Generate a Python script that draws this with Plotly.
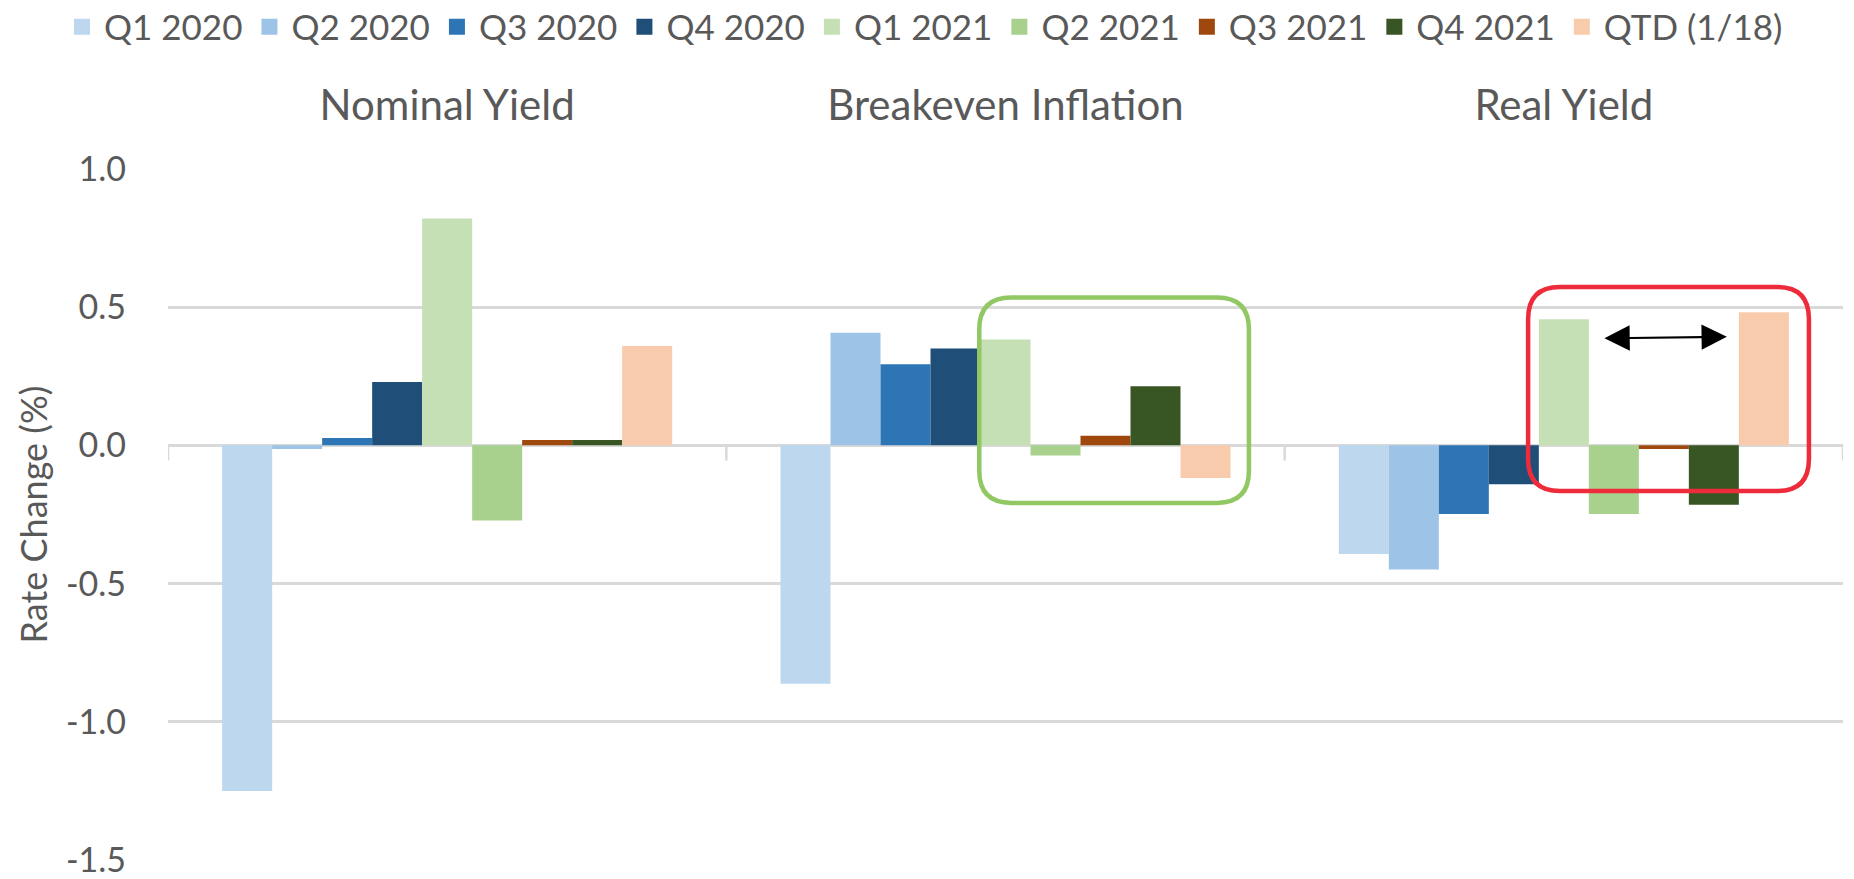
import plotly.graph_objects as go

categories = ["Nominal Yield", "Breakeven Inflation", "Real Yield"]
series_names = ["Q1 2020", "Q2 2020", "Q3 2020", "Q4 2020", "Q1 2021",
                "Q2 2021", "Q3 2021", "Q4 2021", "QTD (1/18)"]
nominal_yield = [-1.25, -0.013, 0.027, 0.229, 0.82, -0.272, 0.019, 0.019, 0.359]
breakeven_inflation = [-0.862, 0.407, 0.293, 0.35, 0.383, -0.037, 0.035, 0.214, -0.118]
real_yield = [-0.393, -0.449, -0.248, -0.141, 0.456, -0.248, -0.013, -0.215, 0.481]
colors = ["#BDD7EE", "#9DC3E6", "#2E75B6", "#1F4E79", "#C5E0B4",
          "#A9D18E", "#9E480E", "#375623", "#F8CBAD"]
tick_vals = [-1.5, -1.0, -0.5, 0.0, 0.5, 1.0]
tick_text = ["-1.5", "-1.0", "-0.5", "0.0", "0.5", "1.0"]

FONT = "Lato"
TXT = "#595959"
GRID = "#D9D9D9"

fig = go.Figure()
for i, name in enumerate(series_names):
    vals = [nominal_yield[i], breakeven_inflation[i], real_yield[i]]
    fig.add_trace(go.Bar(x=categories, y=vals, name=name, legendgroup=name,
                         marker=dict(color=colors[i], line=dict(width=0)),
                         showlegend=False))
    fig.add_trace(go.Scatter(x=[None], y=[None], mode="markers", name=name,
                             legendgroup=name,
                             marker=dict(symbol="square", size=16, color=colors[i]),
                             showlegend=True))

def rounded_rect(x0, x1, y0, y1, rx, ry):
    return (f"M {x0+rx},{y1} L {x1-rx},{y1} Q {x1},{y1} {x1},{y1-ry} "
            f"L {x1},{y0+ry} Q {x1},{y0} {x1-rx},{y0} L {x0+rx},{y0} "
            f"Q {x0},{y0} {x0},{y0+ry} L {x0},{y1-ry} Q {x0},{y1} {x0+rx},{y1} Z")

shapes = []
# category boundary ticks on the zero line
for b in [-0.5, 0.5, 1.5, 2.5]:
    shapes.append(dict(type="line", xref="x", yref="y", x0=b, x1=b, y0=0, y1=-0.055,
                       line=dict(color=GRID, width=2.5), layer="below"))
shapes.append(dict(type="path", xref="x", yref="y",
                   path=rounded_rect(0.953, 1.436, -0.208, 0.535, 0.057, 0.116),
                   line=dict(color="#92C864", width=4.5), layer="above"))
shapes.append(dict(type="path", xref="x", yref="y",
                   path=rounded_rect(1.936, 2.439, -0.165, 0.573, 0.057, 0.116),
                   line=dict(color="#EE2B3A", width=4.5), layer="above"))

fig.update_layout(
    width=1854, height=879,
    margin=dict(l=168, r=11, t=168, b=18, autoexpand=False),
    paper_bgcolor="white", plot_bgcolor="white",
    barmode="group", bargap=0.194, bargroupgap=0,
    font=dict(family=FONT, color=TXT, size=36),
    legend=dict(orientation="h", xref="paper", yref="paper",
                x=-0.0645, xanchor="left", y=1.2035, yanchor="middle",
                itemwidth=34,
                font=dict(family=FONT, size=35, color=TXT),
                itemclick=False, itemdoubleclick=False, traceorder="normal"),
    shapes=shapes,
    annotations=[dict(x=2.292, y=0.393, ax=2.070, ay=0.387, xref="x", yref="y",
                      axref="x", ayref="y", text="", showarrow=True,
                      arrowhead=2, startarrowhead=2, arrowside="end+start",
                      arrowwidth=2.2, arrowsize=2.3, startarrowsize=2.3,
                      arrowcolor="black")],
    xaxis=dict(side="top", showgrid=False, showline=False, ticks="",
               tickfont=dict(family=FONT, size=42, color=TXT),
               ticklabelstandoff=39, automargin=False,
               categoryorder="array", categoryarray=categories,
               range=[-0.5, 2.5]),
    yaxis=dict(range=[-1.503, 1.003], tickvals=tick_vals, ticktext=tick_text,
               showgrid=True, gridcolor=GRID, gridwidth=2.5,
               zeroline=True, zerolinecolor=GRID, zerolinewidth=3,
               showline=False, ticks="", ticklabelstandoff=41,
               ticklabeloverflow="allow",
               tickfont=dict(family=FONT, size=34, color=TXT),
               title=dict(text="Rate Change (%)",
                          font=dict(family=FONT, size=36, color=TXT), standoff=7),
               automargin=False),
)

fig.write_html("out.html", config={"displayModeBar": False},
               post_script="document.body.style.margin='0';document.body.style.overflow='hidden';")
